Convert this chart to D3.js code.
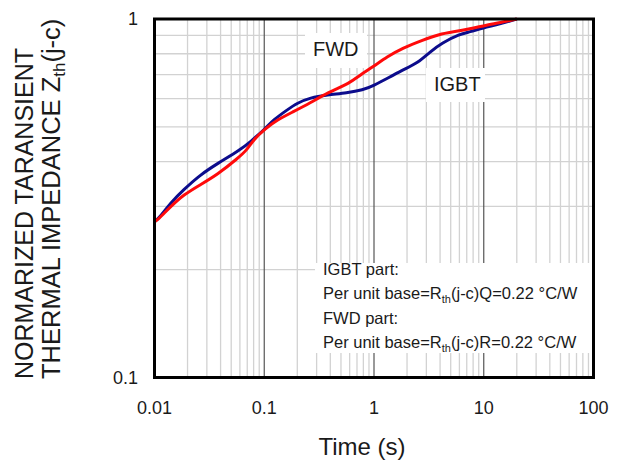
<!DOCTYPE html>
<html>
<head>
<meta charset="utf-8">
<script src="https://cdn.jsdelivr.net/npm/d3@7"></script>
<style>
  body { margin: 0; background: #fff; }
  svg text { font-family: "Liberation Sans", Arial, sans-serif; fill: #1a1a1a; }
</style>
</head>
<body>
<svg id="chart" width="617" height="461"></svg>
<script>
// data
var igbtTime = [0.01, 0.0113, 0.014, 0.0184, 0.0262, 0.0374, 0.0605, 0.0746, 0.102, 0.121, 0.162, 0.2, 0.262, 0.374, 0.568, 0.794, 0.98, 1.4, 1.83, 2.51, 3.23, 4.15, 6.05, 7.46, 9.8, 14.0, 20];
var igbtZ    = [0.272, 0.281, 0.307, 0.334, 0.368, 0.395, 0.432, 0.454, 0.494, 0.523, 0.558, 0.583, 0.603, 0.614, 0.622, 0.634, 0.651, 0.689, 0.721, 0.754, 0.809, 0.857, 0.908, 0.920, 0.944, 0.968, 1.0];
var fwdTime  = [0.01, 0.01065, 0.014, 0.0184, 0.0262, 0.0374, 0.0581, 0.070, 0.0794, 0.102, 0.131, 0.1835, 0.262, 0.374, 0.605, 0.746, 0.98, 1.31, 1.83, 2.79, 3.98, 5.23, 7.46, 10.6, 14.9, 20];
var fwdZ     = [0.272, 0.275, 0.2995, 0.3234, 0.345, 0.368, 0.410, 0.432, 0.460, 0.494, 0.523, 0.551, 0.583, 0.622, 0.663, 0.698, 0.735, 0.784, 0.830, 0.874, 0.908, 0.920, 0.938, 0.962, 0.981, 1.0];

var xTicks = [0.01, 0.1, 1, 10, 100];
var xTickLabels = ["0.01", "0.1", "1", "10", "100"];
var yTicks = [0.1, 1];
var yTickLabels = ["0.1", "1"];
var noteLines = ["IGBT part:", "Per unit base=R|th|(j-c)Q=0.22 °C/W", "FWD part:", "Per unit base=R|th|(j-c)R=0.22 °C/W"];

var plotL = 154.5, plotR = 593.5, plotT = 19, plotB = 377.5;

var svg = d3.select("#chart");

var x = d3.scaleLog().domain([0.01, 100]).range([plotL, plotR]);
var y = d3.scaleLog().domain([0.1, 1]).range([plotB, plotT]);

// grid
var minorX = [];
[0.01, 0.1, 1, 10].forEach(function(d) {
    for (var k = 2; k <= 9; k++) minorX.push(d * k);
});
var minorY = [];
for (var k = 2; k <= 9; k++) minorY.push(k / 10);

var grid = svg.append("g");
grid.selectAll(".vx")
    .data(minorX)
    .enter().append("line")
    .attr("x1", function(d) { return x(d); })
    .attr("x2", function(d) { return x(d); })
    .attr("y1", plotT).attr("y2", plotB)
    .attr("stroke", "#d2d2d2").attr("stroke-width", 1.3);
grid.selectAll(".hy")
    .data(minorY)
    .enter().append("line")
    .attr("y1", function(d) { return y(d); })
    .attr("y2", function(d) { return y(d); })
    .attr("x1", plotL).attr("x2", plotR)
    .attr("stroke", "#d2d2d2").attr("stroke-width", 1.3);
grid.selectAll(".mx")
    .data([0.1, 1, 10])
    .enter().append("line")
    .attr("x1", function(d) { return x(d); })
    .attr("x2", function(d) { return x(d); })
    .attr("y1", plotT).attr("y2", plotB)
    .attr("stroke", "#555").attr("stroke-width", 1.2);

// white boxes behind labels
svg.append("rect").attr("x", 305).attr("y", 33).attr("width", 62).attr("height", 35).attr("fill", "#fff");
svg.append("rect").attr("x", 426).attr("y", 68).attr("width", 59).attr("height", 34).attr("fill", "#fff");
svg.append("rect").attr("x", 315).attr("y", 263).attr("width", 278).attr("height", 90).attr("fill", "#fff");

// curves
var line = d3.line()
    .x(function(d) { return x(d[0]); })
    .y(function(d) { return y(d[1]); })
    .curve(d3.curveBasis);

svg.append("path")
    .datum(d3.zip(igbtTime, igbtZ))
    .attr("d", line)
    .attr("fill", "none").attr("stroke", "#0c0c8c").attr("stroke-width", 3);
svg.append("path")
    .datum(d3.zip(fwdTime, fwdZ))
    .attr("d", line)
    .attr("fill", "none").attr("stroke", "#ff0a0a").attr("stroke-width", 3);

// frame
svg.append("rect")
    .attr("x", plotL).attr("y", plotT)
    .attr("width", plotR - plotL).attr("height", plotB - plotT)
    .attr("fill", "none").attr("stroke", "#000").attr("stroke-width", 3);

// tick labels
svg.selectAll(".xt")
    .data(xTicks)
    .enter().append("text")
    .attr("x", function(d) { return x(d); })
    .attr("y", 414)
    .attr("text-anchor", "middle")
    .style("font-size", "18px")
    .text(function(d, i) { return xTickLabels[i]; });
svg.selectAll(".yt")
    .data(yTicks)
    .enter().append("text")
    .attr("x", 138)
    .attr("y", function(d) { return y(d) + 6; })
    .attr("text-anchor", "end")
    .style("font-size", "18px")
    .text(function(d, i) { return yTickLabels[i]; });

// axis titles
svg.append("text")
    .attr("x", 362).attr("y", 455)
    .attr("text-anchor", "middle")
    .style("font-size", "24px")
    .text("Time (s)");

var yt1 = svg.append("text")
    .attr("transform", "translate(33,379) rotate(-90)")
    .style("font-size", "25px")
    .text("NORMARIZED TARANSIENT");
var yt2 = svg.append("text")
    .attr("transform", "translate(60,379) rotate(-90)")
    .style("font-size", "25.5px");
yt2.append("tspan").text("THERMAL IMPEDANCE Z");
yt2.append("tspan").attr("dy", 5).style("font-size", "17px").text("th");
yt2.append("tspan").attr("dy", -5).text("(j-c)");

// curve labels
svg.append("text").attr("x", 313).attr("y", 56).style("font-size", "20px").text("FWD");
svg.append("text").attr("x", 434).attr("y", 91).style("font-size", "20px").text("IGBT");

// note
svg.selectAll(".note")
    .data(noteLines)
    .enter().append("text")
    .attr("x", 323)
    .attr("y", function(d, i) { return 275 + i * 24.3; })
    .style("font-size", "16.5px")
    .each(function(d) {
        var parts = d.split("|");
        var t = d3.select(this);
        t.append("tspan").text(parts[0]);
        if (parts.length > 1) {
            t.append("tspan").attr("dy", 4).style("font-size", "11px").text(parts[1]);
            t.append("tspan").attr("dy", -4).text(parts[2]);
        }
    });
</script>
</body>
</html>
